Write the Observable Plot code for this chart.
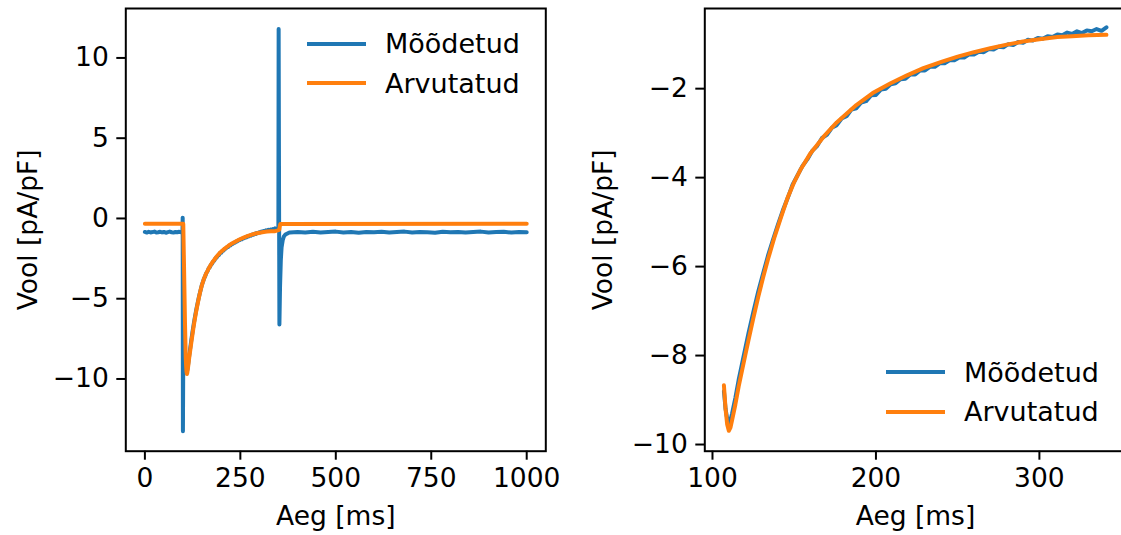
<!DOCTYPE html>
<html>
<head>
<meta charset="utf-8">
<script src="https://cdn.jsdelivr.net/npm/d3@7"></script>
<script src="https://cdn.jsdelivr.net/npm/@observablehq/plot@0.6"></script>
<style>
  html, body { margin: 0; padding: 0; background: #fff; width: 1121px; height: 535px; overflow: hidden; }
  #wrap { position: relative; width: 1121px; height: 535px; overflow: hidden; font-family: "DejaVu Sans", sans-serif; }
  .panel { position: absolute; top: 0; }
  .leg { position: absolute; font-size: 27px; color: #000; white-space: nowrap; line-height: 1; }
  .legline { position: absolute; height: 4px; }
</style>
</head>
<body>
<div id="wrap"></div>
<script>
// ---- Data ----
const seriesNames = ["Mõõdetud", "Arvutatud"];
const seriesColors = ["#1f77b4", "#ff7f0e"];

// Measured (Mõõdetud) current, time in ms
const measuredTime = [
  0, 5, 10, 15, 20, 25, 30, 35, 40, 45, 50, 55, 60, 65, 70, 75, 80, 85, 90, 95, 98.4,
  99, 99.6, 100.3, 104, 107, 108, 109, 110, 111, 112, 114, 116, 118, 120, 122, 125, 128, 131, 134, 137, 140,
  143, 146, 149, 152, 155, 158, 161, 164, 167, 170, 173, 176, 179, 182, 185, 188, 191, 194, 197,
  200, 203, 206, 209, 212, 215, 218, 221, 224, 227, 230, 233, 236, 239, 242, 245, 248, 251, 254,
  257, 260, 263, 266, 269, 272, 275, 278, 281, 284, 287, 290, 293, 296, 299, 302, 305, 308, 311,
  314, 317, 320, 323, 326, 329, 332, 335, 338, 341, 344, 347, 349.6,
  350.3, 351.2, 352.3, 354, 356, 358, 361, 364, 368, 372, 376,
  380, 400, 420, 440, 460, 480, 500, 520, 540, 560, 580, 600, 620, 640, 660, 680, 700,
  720, 740, 760, 780, 800, 820, 840, 860, 880, 900, 920, 940, 960, 980, 1000
];
const measuredValue = [
  -0.84, -0.88, -0.83, -0.87, -0.85, -0.82, -0.88, -0.86, -0.83, -0.87, -0.84, -0.89, -0.85, -0.82, -0.86, -0.88, -0.84, -0.86, -0.83, -0.87, -0.85,
  0.05, -13.25, -9.8, -9.0, -8.8, -9.2, -9.42, -9.5, -9.45, -9.3, -8.95, -8.55, -8.2, -7.85, -7.5, -7.02, -6.56, -6.15, -5.75, -5.4, -5.06,
  -4.74, -4.46, -4.16, -3.95, -3.74, -3.59, -3.40, -3.29, -3.11, -3.04, -2.88, -2.82, -2.67, -2.62, -2.47, -2.44, -2.31, -2.28, -2.15,
  -2.14, -2.02, -2.00, -1.90, -1.88, -1.79, -1.78, -1.68, -1.68, -1.59, -1.59, -1.51, -1.51, -1.43, -1.43, -1.36, -1.36, -1.30, -1.30,
  -1.23, -1.23, -1.17, -1.18, -1.11, -1.12, -1.06, -1.07, -1.00, -1.02, -0.95, -0.97, -0.90, -0.92, -0.86, -0.88, -0.82, -0.84, -0.78,
  -0.80, -0.74, -0.77, -0.71, -0.75, -0.69, -0.71, -0.66, -0.70, -0.62, -0.66, -0.64, -0.62,
  11.8, 3.0, -6.6, -4.2, -2.6, -1.8, -1.35, -1.12, -1.0, -0.95, -0.9,
  -0.87, -0.84, -0.87, -0.83, -0.88, -0.85, -0.82, -0.87, -0.85, -0.89, -0.84, -0.86, -0.83, -0.88, -0.85, -0.82, -0.87,
  -0.84, -0.86, -0.89, -0.83, -0.86, -0.84, -0.88, -0.85, -0.82, -0.87, -0.85, -0.83, -0.88, -0.85, -0.86
];

// Computed (Arvutatud) current
const computedTime = [
  0, 100.5, 102.5, 105, 107, 108, 109, 110, 111, 112, 114, 116, 118, 120, 122, 125, 128, 131, 134, 138,
  142, 146, 150, 154, 160, 168, 176, 188, 198, 209, 219, 229, 240, 250, 260, 270, 280, 290, 300,
  311, 320, 330, 341, 346, 350, 352, 353.5, 355, 1000
];
const computedValue = [
  -0.33, -0.33, -3.0, -6.5, -8.67, -9.2, -9.55, -9.69, -9.62, -9.45, -9.1, -8.7, -8.35, -8.0, -7.66, -7.16, -6.68, -6.24, -5.83, -5.33,
  -4.88, -4.45, -4.1, -3.81, -3.45, -3.08, -2.76, -2.37, -2.1, -1.88, -1.7, -1.54, -1.4, -1.28, -1.18, -1.09, -1.01, -0.94, -0.89,
  -0.84, -0.82, -0.80, -0.79, -0.76, -0.73, -0.70, -0.45, -0.34, -0.33
];

// Tick labels
const leftXTicks = [0, 250, 500, 750, 1000];
const leftYTicks = [-10, -5, 0, 5, 10];
const rightXTicks = [100, 200, 300];
const rightYTicks = [-10, -8, -6, -4, -2];
const xLabel = "Aeg [ms]";
const yLabel = "Vool [pA/pF]";

// Zoomed range shown in the right panel
const zoomRange = [107, 341.5];

// ---- Build tables ----
const rows = [];
measuredTime.forEach((t, i) => rows.push({t, v: measuredValue[i], s: seriesNames[0]}));
computedTime.forEach((t, i) => rows.push({t, v: computedValue[i], s: seriesNames[1]}));
const zoomRows = rows.filter(d => d.t >= zoomRange[0] && d.t <= zoomRange[1]);

const fmt = d => (d < 0 ? "\u2212" + Math.abs(d) : String(d));
const FS = 26.5;

function panel({data, width, marginLeft, marginRight, xDomain, yDomain, xTicks, yTicks, ylabelX}) {
  return Plot.plot({
    width, height: 535,
    marginLeft, marginRight, marginTop: 8, marginBottom: 535 - 450.7,
    style: {fontFamily: "DejaVu Sans", fontSize: FS + "px", color: "#000", background: "transparent", overflow: "visible"},
    x: {domain: xDomain},
    y: {domain: yDomain},
    color: {domain: seriesNames, range: seriesColors},
    marks: [
      Plot.line(data.filter(d => d.s === seriesNames[0]), {x: "t", y: "v", stroke: "s", strokeWidth: 4, clip: true, strokeLinejoin: "round", strokeLinecap: "round"}),
      Plot.line(data.filter(d => d.s === seriesNames[1]), {x: "t", y: "v", stroke: "s", strokeWidth: 4, clip: true, strokeLinejoin: "round", strokeLinecap: "round"}),
      Plot.frame({stroke: "#000", strokeWidth: 2}),
      Plot.axisX({ticks: xTicks, tickFormat: fmt, tickSize: 9, tickPadding: 8, strokeWidth: 2, label: null}),
      Plot.axisY({ticks: yTicks, tickFormat: fmt, tickSize: 9, tickPadding: 8, strokeWidth: 2, label: null}),
      Plot.text([xLabel], {frameAnchor: "bottom", text: d => d, dy: 74, fontSize: FS, textAnchor: "middle"}),
      Plot.text([yLabel], {frameAnchor: "left", text: d => d, rotate: -90, dx: -(marginLeft - ylabelX), fontSize: FS, textAnchor: "middle", lineAnchor: "middle"})
    ]
  });
}

const wrap = document.getElementById("wrap");

const left = panel({
  data: rows, width: 560, marginLeft: 125.3, marginRight: 560 - 545.3,
  xDomain: [-50, 1050], yDomain: [-14.5, 13.08], xTicks: leftXTicks, yTicks: leftYTicks, ylabelX: 28
});
left.classList.add("panel"); left.style.left = "0px";
wrap.appendChild(left);

const right = panel({
  data: zoomRows, width: 530, marginLeft: 104.3, marginRight: 4.3,
  xDomain: [95.3, 353.1], yDomain: [-10.15, -0.198], xTicks: rightXTicks, yTicks: rightYTicks, ylabelX: 3
});
right.classList.add("panel"); right.style.left = "600px";
wrap.appendChild(right);

// Legends
function legend(x, y) {
  seriesNames.forEach((name, i) => {
    const yy = y + i * 39.5;
    const ln = document.createElement("div");
    ln.className = "legline";
    ln.style.left = x + "px"; ln.style.top = (yy - 2) + "px"; ln.style.width = "59px";
    ln.style.background = seriesColors[i];
    wrap.appendChild(ln);
    const tx = document.createElement("div");
    tx.className = "leg";
    tx.textContent = name;
    tx.style.left = (x + 78) + "px"; tx.style.top = (yy - 27 * 0.5) + "px";
    wrap.appendChild(tx);
  });
}
legend(307, 43.5);
legend(886, 372);
</script>
</body>
</html>
